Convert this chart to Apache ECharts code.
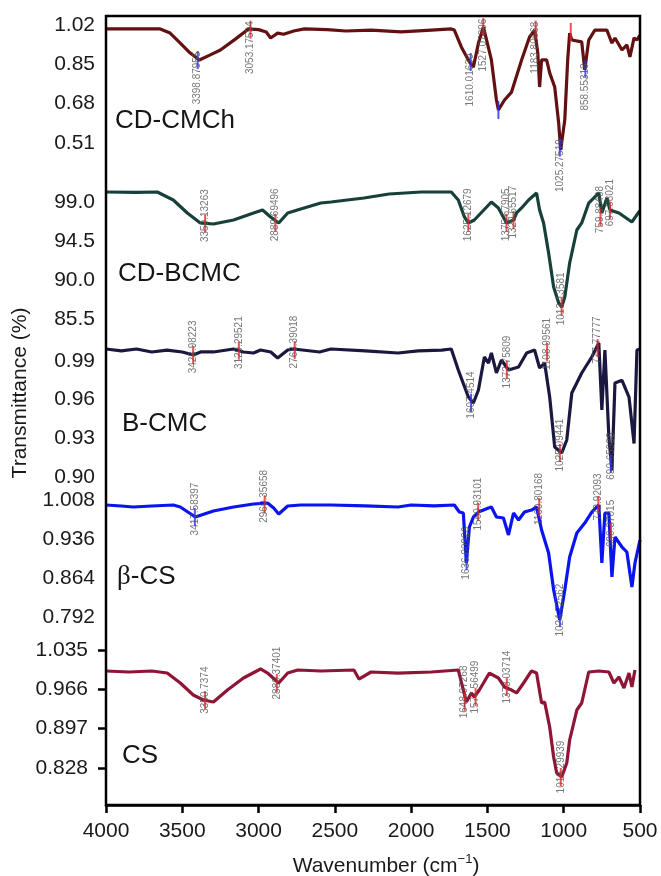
<!DOCTYPE html>
<html>
<head>
<meta charset="utf-8">
<script src="https://cdn.jsdelivr.net/npm/echarts@6/dist/echarts.min.js"></script>
<style>
  html, body { margin: 0; padding: 0; background: #fff; }
  #ftir { width: 661px; height: 876px; }
</style>
</head>
<body>
<div id="ftir"></div>
<script>
var dom = document.getElementById("ftir");
var ftirChart = echarts.init(dom);

// spectra, [wavenumber, transmittance]
var cmchData = [
    [4000,1.003],[3850,1.003],[3645,1.003],[3580,0.985],[3513,0.942],[3450,0.9],[3388,0.869],[3320,0.89],
    [3250,0.912],[3150,0.96],[3066,1.003],[3000,1.0],[2950,0.99],[2921,0.964],[2875,0.985],[2836,0.98],
    [2770,0.994],[2700,1.003],[2550,1.0],[2428,0.994],[2263,0.998],[2066,0.99],[1868,0.998],[1737,1.003],
    [1717,0.998],[1671,0.925],[1618,0.86],[1592,0.838],[1559,0.942],[1526,1.011],[1474,0.869],[1441,0.696],
    [1428,0.653],[1388,0.696],[1342,0.73],[1276,0.869],[1224,0.968],[1191,0.998],[1170,0.9],[1158,0.752],
    [1145,0.869],[1112,0.869],[1092,0.813],[1059,0.752],[1033,0.596],[1020,0.48],[993,0.61],[974,0.869],
    [961,0.985],[947,0.955],[882,0.947],[862,0.826],[836,0.955],[796,0.998],[717,0.998],[684,0.942],
    [664,0.964],[618,0.912],[586,0.934],[566,0.882],[539,0.964],[520,0.955],[500,0.977]
];
var bcmcData = [
    [4000,100.15],[3800,100.1],[3664,100.15],[3559,99.23],[3467,97.73],[3382,96.58],[3296,96.46],[3164,96.92],
    [3033,97.73],[2974,98.08],[2921,97.27],[2868,96.58],[2809,97.73],[2724,98.19],[2592,98.88],[2526,99.0],
    [2309,99.46],[2145,99.92],[1934,100.15],[1737,100.15],[1691,99.23],[1651,97.27],[1625,96.58],[1586,96.92],
    [1474,99.0],[1428,98.31],[1375,96.58],[1329,96.92],[1309,97.73],[1276,98.31],[1230,99.23],[1178,100.04],
    [1158,98.08],[1132,96.58],[1099,93.12],[1066,89.19],[1033,87.35],[1013,86.89],[993,88.04],[961,91.96],
    [914,95.77],[882,96.58],[836,98.88],[770,100.04],[750,97.73],[717,99.46],[697,98.08],[638,97.73],
    [553,96.69],[507,97.85],[500,98.0]
];
var bcmcNaData = [
    [4000,0.9993],[3900,0.9978],[3800,0.9993],[3700,0.997],[3600,0.9985],[3500,0.997],[3428,0.9947],[3380,0.997],
    [3296,0.997],[3164,0.9993],[3100,0.997],[3033,0.9962],[2987,0.9985],[2920,0.997],[2875,0.9923],[2809,0.9985],
    [2770,0.9993],[2600,0.997],[2526,0.9993],[2300,0.9978],[2086,0.9962],[1954,0.9978],[1800,0.9985],[1737,0.9993],
    [1691,0.983],[1625,0.9621],[1592,0.9574],[1559,0.9675],[1520,0.9931],[1493,0.9884],[1474,0.9962],[1441,0.9807],
    [1408,0.9908],[1362,0.983],[1296,0.9853],[1243,0.9962],[1191,0.9985],[1158,0.9846],[1125,0.9884],[1092,0.9621],
    [1059,0.9233],[1013,0.9186],[980,0.9287],[947,0.9652],[882,0.9807],[816,0.9931],[770,1.004],[750,0.952],
    [730,0.9985],[704,0.931],[684,0.905],[664,0.973],[618,0.975],[572,0.962],[539,0.926],[520,0.9985],[500,0.9993]
];
var betaCsData = [
    [4000,0.9988],[3900,0.9969],[3822,0.9951],[3700,0.9969],[3559,0.9988],[3513,0.9951],[3414,0.9766],[3296,0.9877],
    [3164,0.9951],[3033,1.0006],[2941,1.0025],[2901,0.9932],[2868,0.9822],[2809,0.9969],[2724,0.9988],[2526,0.9988],
    [2300,0.997],[2086,0.9951],[2000,0.9988],[1850,0.997],[1717,0.9988],[1684,0.9858],[1658,0.984],[1638,0.8917],
    [1618,0.9582],[1592,0.9766],[1559,0.9858],[1493,0.9932],[1474,0.9951],[1441,0.9766],[1395,0.9748],[1362,0.9434],
    [1329,0.984],[1296,0.9711],[1257,0.9858],[1211,0.9895],[1178,0.9951],[1145,0.9526],[1099,0.9102],[1066,0.8419],
    [1026,0.7865],[993,0.8419],[961,0.9028],[914,0.9471],[862,0.9655],[816,0.9858],[770,0.9988],[750,0.8917],
    [730,0.984],[704,0.984],[684,0.8659],[664,0.9397],[618,0.9212],[586,0.912],[553,0.8474],[533,0.8917],[500,0.9342]
];
var csData = [
    [4000,0.9982],[3850,0.9964],[3700,0.9982],[3599,0.9946],[3513,0.9771],[3428,0.9561],[3362,0.9473],[3296,0.9438],
    [3204,0.9648],[3099,0.9859],[2987,1.0017],[2941,0.9946],[2868,0.9771],[2809,0.9946],[2743,0.9999],[2592,0.9982],
    [2375,0.9999],[2342,0.9841],[2263,0.9964],[2086,0.9946],[1868,0.9964],[1691,0.9999],[1658,0.9648],[1638,0.9438],
    [1605,0.9596],[1586,0.9525],[1553,0.9648],[1487,0.9946],[1428,0.9859],[1388,0.9701],[1342,0.9648],[1309,0.9596],
    [1263,0.9771],[1211,0.9982],[1178,0.9946],[1145,0.942],[1125,0.9438],[1092,0.8999],[1066,0.8473],[1046,0.8192],
    [1013,0.8122],[980,0.8368],[961,0.8771],[914,0.9297],[882,0.942],[836,0.9964],[770,0.9982],[704,0.9964],
    [671,0.9771],[638,0.9876],[605,0.9683],[572,0.9946],[553,0.9701],[533,0.9999]
];

// picked peaks [wavenumber, transmittance, label]
var cmchPeaksBlue = [[3398.9,0.869,'3398.87955'],[1610,0.86,'1610.01630'],[1428,0.653,''],[1025.3,0.49,'1025.27519'],[858,0.83,'858.55318']];
var cmchPeaksRed = [[3053.2,1.0,'3053.17594'],[1527.1,1.011,'1527.07896'],[1183.8,1.0,'1183.80668'],[954,0.99,'']];
var bcmcPeaksRed = [[3350.1,96.5,'3350.13263'],[2889.7,96.6,'2889.69496'],[1625,96.6,'1625.12679'],[1375,96.6,'1375.67905'],
    [1329,96.9,'1329.65517'],[1013.6,86.9,'1013.13581'],[759,97.2,'759.88408'],[697,98.0,'697.98021']];
var bcmcNaPeaksRed = [[3428.98,0.9947,'3428.98223'],[3129.3,0.998,'3129.29521'],[2763.4,0.9985,'2763.39018'],[1372.8,0.983,'1372.75809'],
    [1108.99,0.997,'1108.99561'],[1025.09,0.9186,'1025.09441'],[777.8,1.0,'777.77777']];
var bcmcNaPeaksBlue = [[1607.45,0.9574,'1607.4514'],[690.66,0.91,'690.65988']];
var betaCsPeaksBlue = [[3417.6,0.9766,'3417.58397'],[1636.8,0.895,'1636.80926'],[1024.7,0.79,'1024.72562']];
var betaCsPeaksRed = [[2960.4,1.0,'2960.35658'],[1560.9,0.9858,'1560.93101'],[1160.8,0.995,'1160.80168'],[772.9,0.9988,'772.92093'],[690.4,0.95,'690.37015']];
var csPeaksRed = [[3350.7,0.947,'3350.7374'],[2880.4,0.977,'2880.37401'],[1648.97,0.944,'1648.97268'],[1577.6,0.9525,'1577.56499'],
    [1373,0.97,'1373.03714'],[1019.3,0.8122,'1019.29939']];

// tick labels
var xTicks = [4000, 3500, 3000, 2500, 2000, 1500, 1000, 500];
var cmchTicks = [0.51, 0.68, 0.85, 1.02];
var bcmcTicks = [85.5, 90.0, 94.5, 99.0];
var bcmcNaTicks = [0.90, 0.93, 0.96, 0.99];
var betaCsTicks = [0.792, 0.864, 0.936, 1.008];
var csTicks = [0.828, 0.897, 0.966, 1.035];

var fontFam = '"Liberation Sans", Arial, sans-serif';

var panels = [
    {data: cmchData, ticks: cmchTicks, dec: 2, min: 0.3847, max: 1.0589, top: 16, height: 156, color: '#631010',
        blue: cmchPeaksBlue, red: cmchPeaksRed, off: 18},
    {data: bcmcData, ticks: bcmcTicks, dec: 1, min: 83.65, max: 102.46, top: 172, height: 163, color: '#17403a',
        blue: [], red: bcmcPeaksRed, off: -8},
    {data: bcmcNaData, ticks: bcmcNaTicks, dec: 2, min: 0.89379, max: 1.01017, top: 335, height: 150, color: '#1b1840',
        blue: bcmcNaPeaksBlue, red: bcmcNaPeaksRed, off: -8},
    {data: betaCsData, ticks: betaCsTicks, dec: 3, min: 0.75325, max: 1.03569, top: 485, height: 153, color: '#0a14f0',
        blue: betaCsPeaksBlue, red: betaCsPeaksRed, off: -8},
    {data: csData, ticks: csTicks, dec: 3, min: 0.76307, max: 1.05605, top: 638, height: 167, color: '#8e1535',
        blue: [], red: csPeaksRed, off: -10}
];

var grid = [], xAxis = [], yAxis = [], series = [];
panels.forEach(function (p, i) {
    var last = i === panels.length - 1;
    grid.push({left: 106, right: 21, top: p.top, height: p.height});
    xAxis.push({
        type: 'value', gridIndex: i, min: 500, max: 4000, interval: 500, inverse: true, show: last,
        axisLine: {show: last, lineStyle: {color: '#000', width: 2.5}},
        axisTick: {show: last, length: 8, lineStyle: {color: '#000', width: 2.5}},
        axisLabel: {show: last, fontSize: 21, color: '#1a1a1a', fontFamily: fontFam, margin: 16,
            showMinLabel: true, showMaxLabel: true, customValues: xTicks,
            formatter: function (v) { return String(v); }},
        splitLine: {show: false}
    });
    yAxis.push({
        type: 'value', gridIndex: i, min: p.min, max: p.max,
        axisLine: {show: false},
        axisTick: {show: last, length: 8, lineStyle: {color: '#000', width: 2.5}, customValues: p.ticks},
        axisLabel: {fontSize: 21, color: '#1a1a1a', fontFamily: fontFam, margin: last ? 18 : 11,
            customValues: p.ticks, formatter: (function (d) { return function (v) { return v.toFixed(d); }; })(p.dec)},
        splitLine: {show: false}
    });
    series.push({
        type: 'line', xAxisIndex: i, yAxisIndex: i, data: p.data, symbol: 'none', clip: false,
        lineStyle: {color: p.color, width: 3.2}, z: 3, animation: false
    });
    [['#2030ff', p.blue], ['#e8262a', p.red]].forEach(function (m) {
        if (!m[1].length) return;
        series.push({
            type: 'scatter', xAxisIndex: i, yAxisIndex: i, data: m[1], symbol: 'rect', symbolSize: [2, 18],
            itemStyle: {color: m[0]}, z: 5, animation: false,
            label: {show: true, position: 'inside', rotate: 90, align: 'center', verticalAlign: 'middle',
                offset: [-p.off, 0], fontSize: 10, color: '#555',
                fontFamily: fontFam, formatter: function (d) { return d.data[2]; }}
        });
    });
});
// outer frame
grid.push({left: 106, right: 21, top: 16, height: 789, show: true, borderColor: '#000', borderWidth: 2.5,
    backgroundColor: 'transparent', z: 4});
xAxis.push({type: 'value', gridIndex: 5, show: false, min: 500, max: 4000});
yAxis.push({type: 'value', gridIndex: 5, show: false, min: 0, max: 1});

var names = [
    {t: 'CD-CMCh', x: 115, y: 123},
    {t: 'CD-BCMC', x: 118, y: 276},
    {t: 'B-CMC', x: 122, y: 426},
    {t: '{g|β}-CS', x: 117, y: 578},
    {t: 'CS', x: 122, y: 758}
];
var graphic = names.map(function (n) {
    return {type: 'text', left: n.x, top: n.y - 15, z: 10, style: {text: n.t, fontSize: 26, fontFamily: fontFam, fill: '#151515',
        rich: {g: {fontSize: 27, fontFamily: '"Liberation Serif", serif', fill: '#151515'}}}};
});
graphic.push({type: 'text', x: 20, y: 393, rotation: Math.PI / 2, z: 10,
    style: {text: 'Transmittance (%)', fontSize: 21, fontFamily: fontFam, fill: '#1a1a1a', align: 'center', verticalAlign: 'middle'}});
graphic.push({type: 'text', x: 386, y: 866, z: 10,
    style: {text: '{a|Wavenumber (cm}{b|−1}{a|)}', align: 'center', verticalAlign: 'middle',
        rich: {a: {fontSize: 21, fontFamily: fontFam, fill: '#1a1a1a', lineHeight: 26},
               b: {fontSize: 13, fontFamily: fontFam, fill: '#1a1a1a', verticalAlign: 'top', lineHeight: 26, padding: [0, 0, 12, 0]}}}});

option = {
    backgroundColor: '#fff',
    animation: false,
    grid: grid,
    xAxis: xAxis,
    yAxis: yAxis,
    series: series,
    graphic: graphic
};
if (option && typeof option === "object") {
    ftirChart.setOption(option, true);
}
</script>
</body>
</html>
